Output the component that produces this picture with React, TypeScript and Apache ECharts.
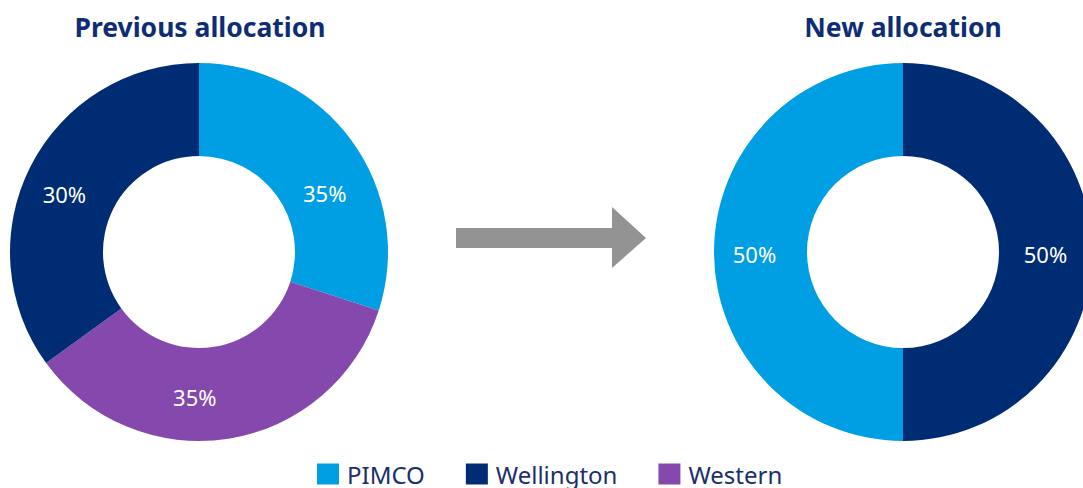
import React, { useEffect, useRef } from "react";
import * as echarts from "echarts";

const managers = ["PIMCO", "Wellington", "Western"];
const colors: Record<string, string> = {
  PIMCO: "#009FE3",
  Wellington: "#002C74",
  Western: "#8549AD",
};

// Previous allocation (slice order clockwise from top)
const prevNames = ["PIMCO", "Western", "Wellington"];
const prevValues = [30, 35, 35];
const prevLabels = ["35%", "35%", "30%"];

// New allocation
const newNames = ["Wellington", "PIMCO"];
const newValues = [50, 50];
const newLabels = ["50%", "50%"];

const titles = ["Previous allocation", "New allocation"];

const FONT = "Noto Sans";

export default function App() {
  const ref = useRef<HTMLDivElement>(null);
  useEffect(() => {
    if (!ref.current) return;
    const chart = echarts.init(ref.current, undefined, { renderer: "svg" });
    const mkData = (names: string[], values: number[], labels: string[]) =>
      names.map((n, i) => ({
        name: n,
        value: values[i],
        itemStyle: { color: colors[n] },
        label: { formatter: labels[i] },
      }));
    const pieBase = {
      type: "pie",
      radius: [96, 189],
      startAngle: 90,
      clockwise: true,
      avoidLabelOverlap: false,
      label: {
        show: true,
        position: "inside",
        color: "#ffffff",
        fontSize: 22,
        fontFamily: FONT,
      },
      labelLine: { show: false },
      itemStyle: { borderWidth: 0 },
      emphasis: { disabled: true },
    };
    const prevShift = [
      { dx: 8, dy: 27 },
      { dx: -27, dy: 1 },
      { dx: -5, dy: 8 },
    ];
    const titleStyle = { fontFamily: FONT, fontSize: 26.5, fontWeight: "bold", color: "#0E2D76" };
    chart.setOption({
      animation: false,
      title: [
        { text: titles[0], left: 195, top: 8, textAlign: "center", textStyle: titleStyle },
        { text: titles[1], left: 898, top: 8, textAlign: "center", textStyle: titleStyle },
      ],
      legend: {
        data: managers,
        left: 312,
        top: 457,
        itemWidth: 22,
        itemHeight: 21,
        itemGap: 41,
        icon: "rect",
        textStyle: {
          fontFamily: FONT,
          fontSize: 24,
          color: "#1B2F6C",
          padding: [0, 0, 0, 3],
        },
        selectedMode: false,
      },
      graphic: [
        {
          type: "polygon",
          shape: {
            points: [
              [456, 228],
              [612, 228],
              [612, 207],
              [646, 238],
              [612, 268],
              [612, 248],
              [456, 248],
            ],
          },
          style: { fill: "#939393" },
        },
      ],
      series: [
        {
          ...pieBase,
          name: "prev",
          center: [199, 252],
          data: mkData(prevNames, prevValues, prevLabels),
          labelLayout: (p: any) => prevShift[p.dataIndex],
        },
        {
          ...pieBase,
          name: "new",
          center: [903, 252],
          data: mkData(newNames, newValues, newLabels),
          labelLayout: { dy: 2, dx: -3 },
        },
      ],
    });
    return () => chart.dispose();
  }, []);
  return (
    <div
      ref={ref}
      style={{ position: "absolute", left: 0, top: 0, width: 1083, height: 488, background: "#fff" }}
    />
  );
}
